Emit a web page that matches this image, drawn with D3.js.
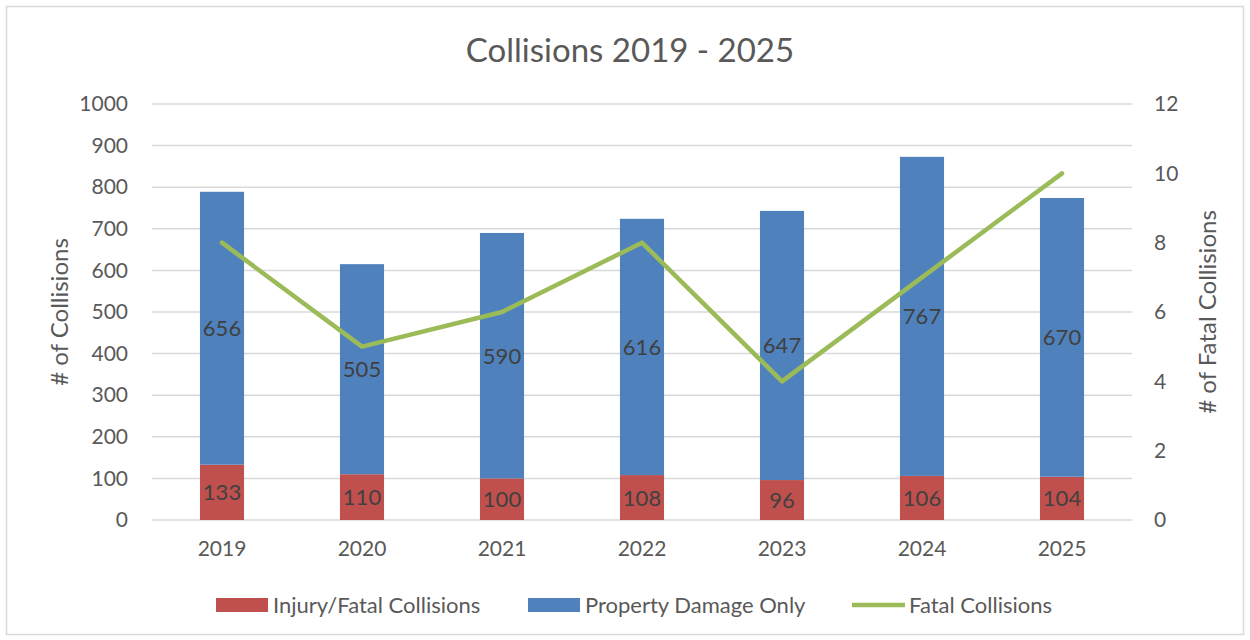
<!DOCTYPE html>
<html>
<head>
<meta charset="utf-8">
<script src="https://cdn.jsdelivr.net/npm/d3@7"></script>
<style>
  html, body { margin: 0; padding: 0; background: #fff; overflow: hidden; }
  svg { display: block; }
  text { font-family: Lato, "Open Sans", sans-serif; }
</style>
</head>
<body>
<div id="chart"></div>
<script>
const years = ["2019", "2020", "2021", "2022", "2023", "2024", "2025"];
const injuryFatal = [133, 110, 100, 108, 96, 106, 104];
const propertyDamage = [656, 505, 590, 616, 647, 767, 670];
const fatalCollisions = [8, 5, 6, 8, 4, 7, 10];
const leftTicks = [0, 100, 200, 300, 400, 500, 600, 700, 800, 900, 1000];
const rightTicks = [0, 2, 4, 6, 8, 10, 12];

const width = 1250, height = 640;
const margin = { top: 104, right: 118, bottom: 120, left: 152 };
const innerWidth = width - margin.left - margin.right;
const innerHeight = height - margin.top - margin.bottom;

const svg = d3.select("#chart").append("svg")
  .attr("width", width)
  .attr("height", height);

// Chart frame
svg.append("rect")
  .attr("x", 6.5).attr("y", 6.5)
  .attr("width", width - 13).attr("height", height - 12)
  .attr("fill", "#fff")
  .attr("stroke", "#d9d9d9")
  .attr("stroke-width", 1.5);

const inner = svg.append("g")
  .attr("transform", `translate(${margin.left},${margin.top})`);

const xScale = d3.scaleBand()
  .domain(years)
  .range([0, innerWidth])
  .paddingInner(0.685)
  .paddingOuter(0.3425);

const yLeft = d3.scaleLinear().domain([0, 1000]).range([innerHeight, 0]);
const yRight = d3.scaleLinear().domain([0, 12]).range([innerHeight, 0]);

// Gridlines
inner.append("g")
  .selectAll("line")
  .data(leftTicks)
  .join("line")
  .attr("x1", 0).attr("x2", innerWidth)
  .attr("y1", d => yLeft(d)).attr("y2", d => yLeft(d))
  .attr("stroke", "#d9d9d9")
  .attr("stroke-width", 1.5);

// Stacked bars
const rows = years.map((y, i) => ({ year: y, injury: injuryFatal[i], property: propertyDamage[i] }));
const stack = d3.stack().keys(["injury", "property"])(rows);
const colors = { injury: "#C0504D", property: "#4F81BD" };

stack.forEach(layer => {
  inner.append("g")
    .selectAll("rect")
    .data(layer)
    .join("rect")
    .attr("x", d => xScale(d.data.year))
    .attr("width", xScale.bandwidth())
    .attr("y", d => yLeft(d[1]))
    .attr("height", d => yLeft(d[0]) - yLeft(d[1]))
    .attr("fill", colors[layer.key]);

  inner.append("g")
    .selectAll("text")
    .data(layer)
    .join("text")
    .attr("x", d => xScale(d.data.year) + xScale.bandwidth() / 2)
    .attr("y", d => (yLeft(d[0]) + yLeft(d[1])) / 2 + 8)
    .attr("text-anchor", "middle")
    .attr("font-size", "22px")
    .attr("fill", "#404040")
    .text(d => d.data[layer.key]);
});

// Fatal collisions line
const line = d3.line()
  .x((d, i) => xScale(years[i]) + xScale.bandwidth() / 2)
  .y(d => yRight(d));

inner.append("path")
  .datum(fatalCollisions)
  .attr("d", line)
  .attr("fill", "none")
  .attr("stroke", "#9BBB59")
  .attr("stroke-width", 4.5)
  .attr("stroke-linejoin", "round")
  .attr("stroke-linecap", "round");

// Axes
const leftAxis = inner.append("g")
  .call(d3.axisLeft(yLeft).tickValues(leftTicks).tickFormat(d3.format("d")).tickSize(0).tickPadding(24));
const rightAxis = inner.append("g")
  .attr("transform", `translate(${innerWidth},0)`)
  .call(d3.axisRight(yRight).tickValues(rightTicks).tickSize(0).tickPadding(22));
const bottomAxis = inner.append("g")
  .attr("transform", `translate(0,${innerHeight})`)
  .call(d3.axisBottom(xScale).tickSize(0).tickPadding(21));

[leftAxis, rightAxis, bottomAxis].forEach(a => {
  a.select(".domain").remove();
  a.attr("font-size", 21).attr("font-family", "Lato, sans-serif");
  a.selectAll("text")
    .attr("font-size", "21px")
    .attr("fill", "#595959");
});

// Axis titles
inner.append("text")
  .attr("transform", "rotate(-90)")
  .attr("x", -innerHeight / 2)
  .attr("y", -margin.left + 68)
  .attr("text-anchor", "middle")
  .attr("font-size", "24px")
  .attr("fill", "#595959")
  .text("# of Collisions");

inner.append("text")
  .attr("transform", "rotate(-90)")
  .attr("x", -innerHeight / 2)
  .attr("y", innerWidth + 84)
  .attr("text-anchor", "middle")
  .attr("font-size", "24px")
  .attr("fill", "#595959")
  .text("# of Fatal Collisions");

// Title
svg.append("text")
  .attr("x", 630)
  .attr("y", 62)
  .attr("text-anchor", "middle")
  .attr("font-size", "33px")
  .attr("fill", "#595959")
  .text("Collisions 2019 - 2025");

// Legend
const legendItems = [
  { label: "Injury/Fatal Collisions", color: "#C0504D", type: "rect", x: 216 },
  { label: "Property Damage Only", color: "#4F81BD", type: "rect", x: 528 },
  { label: "Fatal Collisions", color: "#9BBB59", type: "line", x: 852 }
];
const legend = svg.append("g").attr("transform", "translate(0,605)");
legendItems.forEach(item => {
  const g = legend.append("g").attr("transform", `translate(${item.x},0)`);
  if (item.type === "rect") {
    g.append("rect").attr("x", 0).attr("y", -7).attr("width", 52).attr("height", 14).attr("fill", item.color);
  } else {
    g.append("line").attr("x1", 0).attr("x2", 53).attr("y1", 0).attr("y2", 0)
      .attr("stroke", item.color).attr("stroke-width", 4.5);
  }
  g.append("text")
    .attr("x", 57)
    .attr("y", 8)
    .attr("font-size", "22px")
    .attr("fill", "#595959")
    .text(item.label);
});
</script>
</body>
</html>
